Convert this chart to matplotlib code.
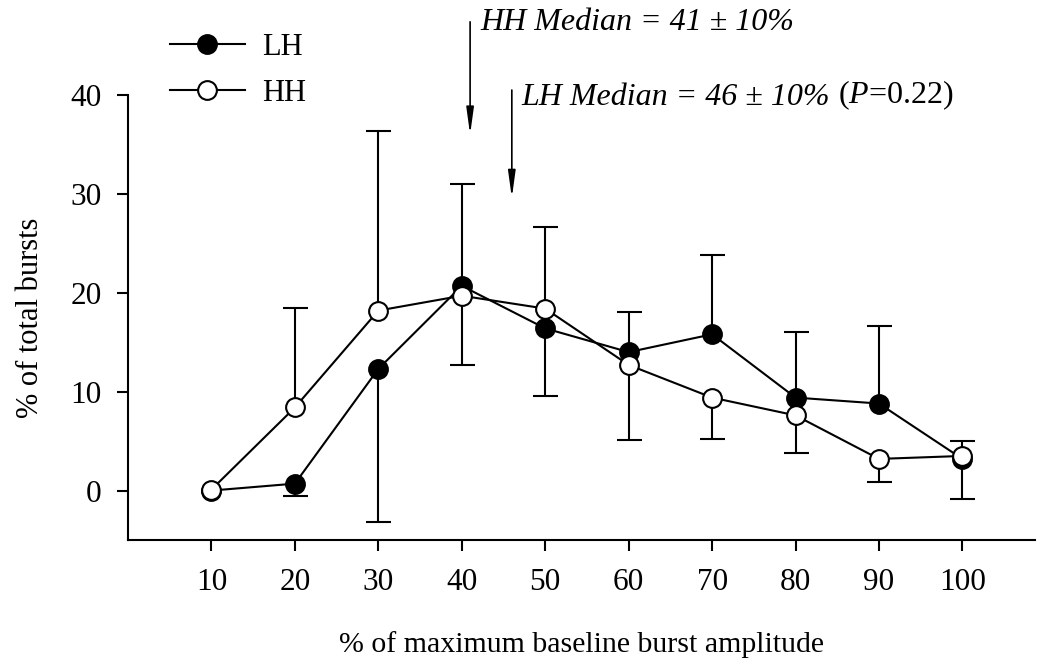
import numpy as np
import matplotlib
matplotlib.use("Agg")
import matplotlib.pyplot as plt

plt.rcParams['font.family'] = ['Liberation Serif', 'DejaVu Serif']
plt.rcParams['mathtext.fontset'] = 'custom'
plt.rcParams['mathtext.rm'] = 'Liberation Serif'
plt.rcParams['mathtext.it'] = 'Liberation Serif:italic'

# data
amplitude = [10, 20, 30, 40, 50, 60, 70, 80, 90, 100]
lh_vals = [0.0, 0.7, 12.3, 20.7, 16.4, 14.0, 15.8, 9.4, 8.8, 3.2]
hh_vals = [0.1, 8.4, 18.2, 19.7, 18.4, 12.7, 9.4, 7.6, 3.2, 3.5]
# end point of the one-sided error bar (None = no bar)
lh_err_end = [None, -0.5, -3.2, 31.0, 9.6, 18.1, 23.8, 16.0, 16.6, -0.9]
hh_err_end = [None, 18.5, 36.4, 12.7, 26.7, 5.1, 5.2, 3.8, 0.9, 5.0]

hh_median = 41
lh_median = 46

fig = plt.figure(figsize=(10.37, 6.72), dpi=100)
ax = fig.add_axes([128 / 1037, 132 / 672, (1035 - 128) / 1037, 445 / 672])

lw = 1.5
fs = 23

def draw_err(xs, ys, ends):
    for x, y, e in zip(xs, ys, ends):
        if e is None:
            continue
        ax.vlines(x, y, e, color='black', lw=lw, zorder=1)
        ax.plot([x], [e], marker='_', ms=18, mew=lw, color='black', zorder=1)

draw_err(amplitude, lh_vals, lh_err_end)
draw_err(amplitude, hh_vals, hh_err_end)

ax.plot(amplitude, lh_vals, '-o', color='black', lw=lw, ms=13.5, mfc='black',
        mec='black', mew=lw, label='LH', zorder=3)
ax.plot(amplitude, hh_vals, '-o', color='black', lw=lw, ms=13.5, mfc='white',
        mec='black', mew=lw, label='HH', zorder=3)

ax.set_xlim(0, 108.7)
ax.set_ylim(-5, 40)
ax.set_xticks(amplitude)
ax.set_yticks([0, 10, 20, 30, 40])
for s in ['top', 'right']:
    ax.spines[s].set_visible(False)
for s in ['left', 'bottom']:
    ax.spines[s].set_linewidth(lw)
ax.tick_params(length=8, width=lw, labelsize=fs - 0.5)
ax.tick_params(axis='x', pad=12)
ax.tick_params(axis='y', pad=11)

ax.set_xlabel('% of maximum baseline burst amplitude', fontsize=21.5, labelpad=25)
ax.set_ylabel('% of total bursts', fontsize=22, labelpad=18)

# median arrows
arr = dict(arrowstyle='-|>,head_length=1.6,head_width=0.22', color='black', lw=1.2,
           shrinkA=0, shrinkB=0)
ax.annotate('', xy=(hh_median, 36.0), xytext=(hh_median, 47.4), arrowprops=arr,
            annotation_clip=False)
ax.annotate('', xy=(lh_median, 29.6), xytext=(lh_median, 40.5), arrowprops=arr,
            annotation_clip=False)

ax.text(42.2, 46.6, 'HH Median = %d \u00b1 10%%' % hh_median, style='italic',
        fontsize=fs, va='baseline', ha='left', clip_on=False)
t1 = ax.text(47.2, 39.0, 'LH Median = %d \u00b1 10%%' % lh_median, style='italic',
             fontsize=fs, va='baseline', ha='left', clip_on=False)
ax.annotate(' ($\\mathit{P}$=0.22)', xy=(1, 0), xycoords=t1, va='bottom', ha='left',
            fontsize=fs)

ax.legend(loc='upper left', bbox_to_anchor=(170 / 1037, 1 - 33 / 672),
          bbox_transform=fig.transFigure, frameon=False, fontsize=22,
          handlelength=2.45, handletextpad=0.55, labelspacing=0.55, borderpad=0,
          borderaxespad=0)

fig.savefig('out.png', dpi=100)
